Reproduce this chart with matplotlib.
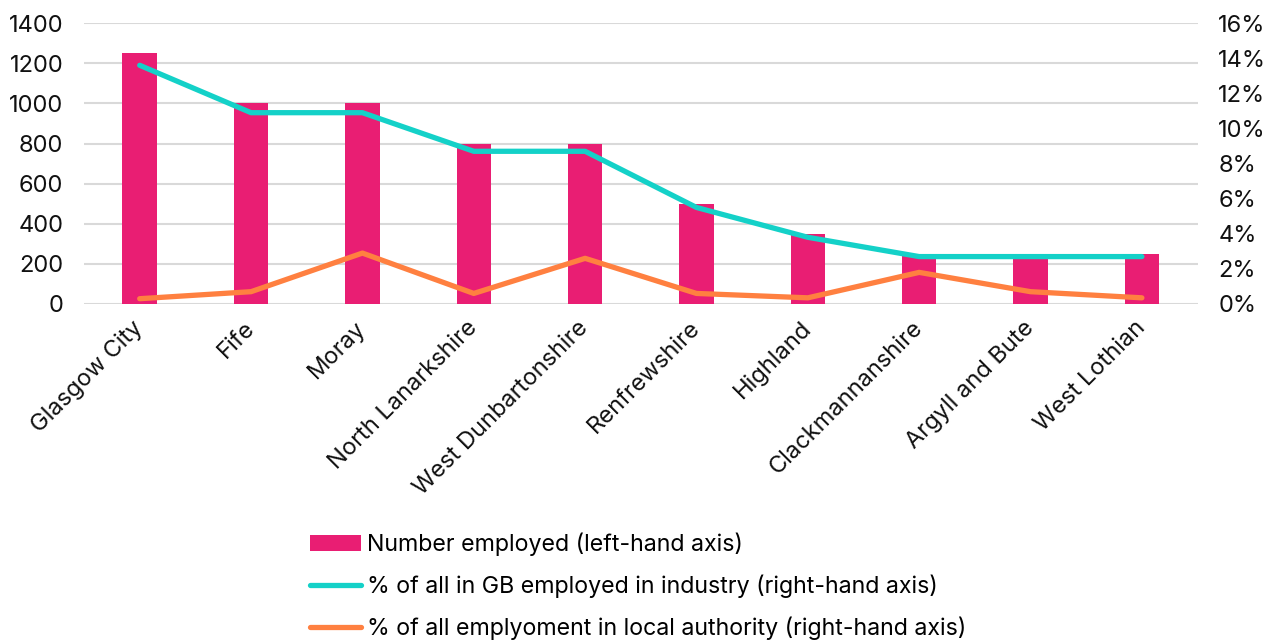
import matplotlib
matplotlib.use("Agg")
import matplotlib.pyplot as plt
from matplotlib.ticker import FuncFormatter, MultipleLocator

plt.rcParams['font.family'] = ['Inter', 'DejaVu Sans']

categories = ["Glasgow City", "Fife", "Moray", "North Lanarkshire", "West Dunbartonshire",
              "Renfrewshire", "Highland", "Clackmannanshire", "Argyll and Bute", "West Lothian"]
number_employed = [1250, 1000, 1000, 800, 800, 500, 350, 250, 250, 250]
pct_gb_industry = [13.6, 10.9, 10.9, 8.7, 8.7, 5.5, 3.8, 2.7, 2.7, 2.7]
pct_local_authority = [0.3, 0.7, 2.9, 0.6, 2.6, 0.6, 0.35, 1.8, 0.7, 0.35]

bar_color = "#E91E73"
cyan = "#14D1C8"
orange = "#FF8040"

fig = plt.figure(figsize=(12.77, 6.44), dpi=100)
ax = fig.add_axes([0.0658, 0.528, 0.872, 0.436])
ax2 = ax.twinx()

x = list(range(len(categories)))
b = ax.bar(x, number_employed, width=0.31, color=bar_color, zorder=2,
           label="Number employed (left-hand axis)")
l1, = ax2.plot(x, pct_gb_industry, color=cyan, lw=3.8, solid_capstyle='round',
               label="% of all in GB employed in industry (right-hand axis)")
l2, = ax2.plot(x, pct_local_authority, color=orange, lw=3.8, solid_capstyle='round',
               label="% of all emplyoment in local authority (right-hand axis)")

ax.set_xlim(-0.5, len(categories) - 0.5)
ax.set_ylim(0, 1400)
ax2.set_ylim(0, 16)
ax.yaxis.set_major_locator(MultipleLocator(200))
ax2.yaxis.set_major_locator(MultipleLocator(2))
ax2.yaxis.set_major_formatter(FuncFormatter(lambda v, p: f"{v:.0f}%"))

ax.grid(axis='y', color='#d9d9d9', lw=1.5, zorder=0)
ax.set_axisbelow(True)
for a in (ax, ax2):
    for s in a.spines.values():
        s.set_visible(False)
    a.tick_params(length=0, labelsize=17, colors='#111111')
ax.tick_params(axis='y', pad=15)
ax2.tick_params(axis='y', pad=15)
ax.set_xticks(x)
ax.set_xticklabels(categories, rotation=45, ha='right', va='center', rotation_mode='anchor')
ax.tick_params(axis='x', pad=15)

fig.legend(handles=[b, l1, l2], loc='upper left', bbox_to_anchor=(0.2355, 0.187),
           frameon=False, fontsize=16.7, handlelength=2.2, handletextpad=0.25,
           labelspacing=0.8, borderaxespad=0)

fig.savefig("out.png", dpi=100)
